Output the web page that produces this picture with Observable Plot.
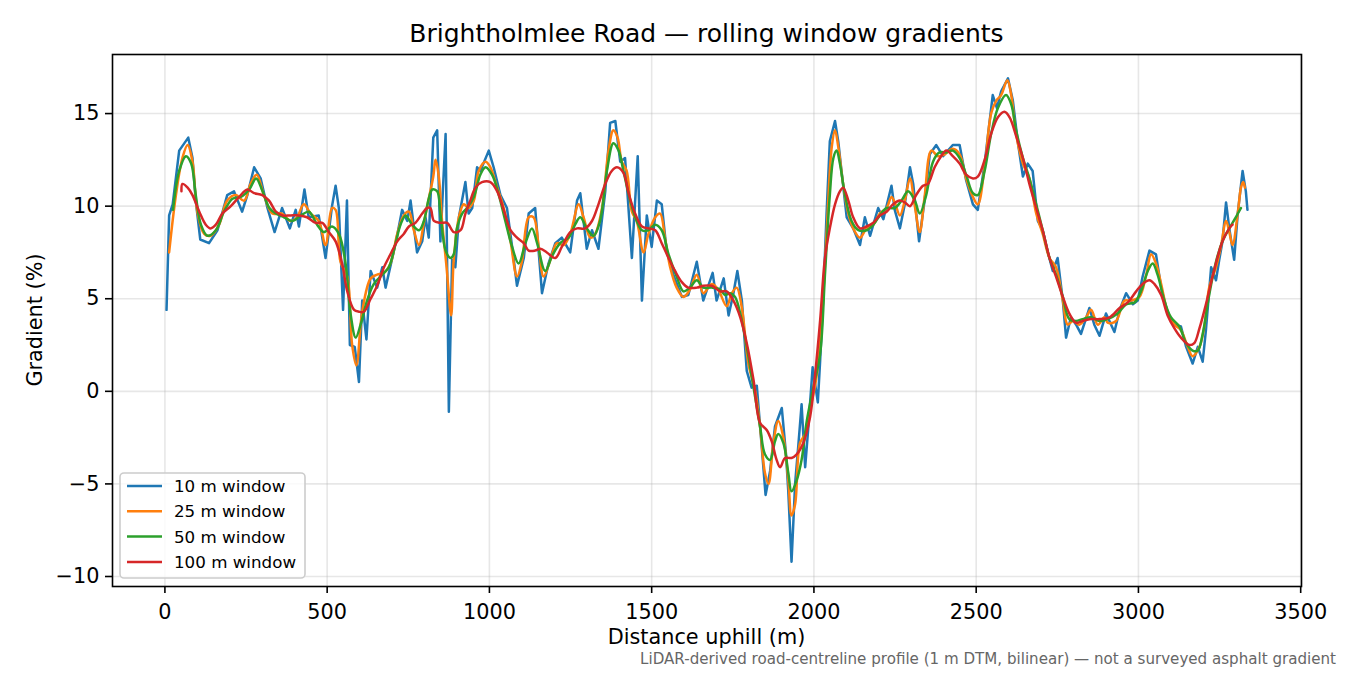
<!DOCTYPE html>
<html>
<head>
<meta charset="utf-8">
<script src="https://cdn.jsdelivr.net/npm/d3@7"></script>
<script src="https://cdn.jsdelivr.net/npm/@observablehq/plot@0.6"></script>
<style>
  html, body { margin: 0; padding: 0; background: #fff; }
  #chart { width: 1350px; height: 675px; }
</style>
</head>
<body>
<div id="chart"></div>
<script>
// ---------- data ----------
const titleText = "Brightholmlee Road — rolling window gradients";
const xLabel = "Distance uphill (m)";
const yLabel = "Gradient (%)";
const caption = "LiDAR-derived road-centreline profile (1 m DTM, bilinear) — not a surveyed asphalt gradient";
const seriesNames = ["10 m window", "25 m window", "50 m window", "100 m window"];
const seriesColors = ["#1f77b4", "#ff7f0e", "#2ca02c", "#d62728"];
const xTicks = [0, 500, 1000, 1500, 2000, 2500, 3000, 3500];
const yTicks = [-10, -5, 0, 5, 10, 15];

const dist10 = [5,13,24,44,72,85,95,109,136,162,192,213,238,254,275,295,316,338,361,385,403,413,430,443,474,495,515,526,536,549,561,570,585,598,608,621,634,654,670,680,711,731,747,757,777,793,803,813,827,839,849,865,875,885,895,906,926,936,947,962,972,998,1013,1034,1054,1070,1085,1106,1121,1141,1162,1182,1203,1223,1249,1270,1280,1300,1316,1336,1357,1372,1388,1403,1418,1439,1457,1470,1485,1500,1516,1531,1546,1567,1593,1613,1639,1659,1688,1700,1722,1737,1752,1764,1778,1793,1808,1824,1836,1851,1865,1880,1901,1914,1921,1931,1942,1952,1962,1973,1983,1996,2012,2019,2029,2039,2049,2065,2075,2085,2101,2121,2142,2157,2173,2198,2214,2239,2249,2265,2280,2296,2306,2324,2341,2357,2377,2398,2428,2449,2469,2490,2505,2526,2551,2564,2577,2598,2613,2628,2644,2659,2674,2690,2705,2721,2736,2751,2767,2777,2792,2808,2823,2849,2864,2880,2900,2926,2942,2962,2983,2998,3013,3034,3054,3070,3090,3111,3131,3147,3167,3183,3198,3208,3224,3239,3249,3259,3270,3280,3295,3306,3321,3331,3336];
const grad10 = [4.4,9.5,10.1,13.0,13.7,12.6,10.3,8.2,8.0,8.7,10.6,10.8,9.7,10.6,12.1,11.5,9.9,8.6,9.9,8.8,9.8,8.9,10.9,9.4,9.5,7.2,10.0,11.1,9.9,4.4,10.3,2.5,2.4,0.5,4.9,2.8,6.5,5.6,6.7,5.6,8.0,9.8,9.2,10.3,7.5,8.1,9.4,8.3,13.7,14.1,8.1,13.9,-1.1,7.1,6.7,9.4,11.3,9.6,9.9,12.1,11.9,13.0,12.1,10.6,9.9,7.8,5.7,7.2,9.6,9.9,5.3,6.9,8.0,8.3,7.5,10.3,10.7,7.7,8.7,7.7,10.8,14.5,14.6,12.4,12.6,7.2,12.7,4.9,9.5,7.8,10.3,10.1,7.6,6.3,5.1,5.2,7.0,4.9,6.4,4.9,6.1,4.1,5.3,6.5,4.9,1.1,0.2,0.3,-2.3,-5.6,-4.3,-1.9,-0.9,-3.4,-5.4,-9.2,-5.0,-2.9,-0.7,-4.1,-1.9,1.3,-0.6,1.6,5.2,9.6,13.5,14.6,13.5,11.9,9.4,8.8,7.9,9.4,8.4,9.9,9.3,11.1,9.8,8.8,10.1,12.1,11.2,8.1,10.3,12.8,13.3,12.7,13.3,13.3,11.4,10.1,9.8,12.3,16.0,15.3,16.2,16.9,15.7,13.5,11.6,12.3,11.9,9.2,8.7,7.5,6.5,7.2,4.9,2.9,4.0,3.6,3.1,4.5,3.6,3.0,4.2,3.2,4.4,5.3,4.7,4.9,6.2,7.6,7.4,5.6,4.2,3.6,3.5,2.4,1.5,2.4,1.6,3.3,6.7,6.0,7.1,8.1,10.2,8.8,7.1,9.6,11.9,10.8,9.8];

const dist25 = [13,34,54,70,85,100,121,141,167,192,218,244,264,283,305,331,361,387,407,428,449,474,495,515,526,541,562,577,590,608,634,654,675,695,716,736,752,767,783,798,813,827,834,844,854,868,882,890,906,921,936,952,967,988,1003,1024,1044,1065,1085,1100,1121,1136,1152,1167,1188,1208,1229,1249,1275,1290,1311,1326,1347,1367,1382,1395,1408,1423,1439,1454,1475,1490,1511,1526,1541,1557,1577,1598,1618,1639,1659,1685,1705,1731,1747,1762,1778,1798,1819,1834,1849,1860,1875,1890,1906,1921,1931,1942,1957,1973,1988,2008,2024,2039,2055,2065,2075,2090,2106,2121,2142,2162,2183,2203,2224,2239,2249,2265,2280,2296,2310,2326,2341,2362,2382,2403,2428,2449,2469,2490,2505,2526,2546,2562,2577,2596,2608,2623,2644,2664,2685,2705,2726,2746,2767,2782,2798,2818,2839,2854,2875,2895,2906,2931,2957,2977,3003,3024,3039,3054,3070,3090,3111,3131,3152,3167,3188,3203,3218,3239,3254,3270,3280,3290,3306,3316,3323,3328];
const grad25 = [7.5,10.6,12.6,13.3,12.4,9.7,8.5,8.4,9.0,10.3,10.6,10.3,11.2,11.7,10.6,9.6,9.6,9.2,9.4,10.1,9.6,9.2,7.9,9.9,9.8,7.0,6.2,2.5,1.4,4.3,6.1,6.3,6.4,6.9,8.5,9.5,9.7,8.7,7.9,9.1,10.4,11.6,12.5,11.6,9.2,6.7,4.1,7.1,9.4,10.1,9.9,10.3,11.9,12.4,12.1,11.0,9.9,8.1,6.2,7.0,9.4,9.4,7.8,6.2,7.1,8.0,7.9,8.5,10.1,9.4,8.3,8.5,9.9,13.0,14.1,13.7,12.4,11.9,9.7,9.2,7.5,8.5,9.4,9.6,8.3,6.7,5.6,5.1,5.5,6.3,5.3,5.8,5.5,4.6,5.3,5.6,4.5,1.5,0.0,-1.9,-4.4,-5.0,-2.8,-1.6,-2.5,-4.8,-6.7,-6.1,-2.8,-2.3,-1.0,0.8,3.8,8.5,13.2,14.1,13.2,11.2,9.6,8.8,8.3,8.8,9.0,9.6,9.9,10.5,10.2,9.5,10.3,11.5,10.1,8.6,10.5,13.0,12.7,12.8,13.1,12.8,11.5,10.5,10.1,12.1,15.0,15.7,16.0,16.8,16.0,13.9,12.3,11.5,9.6,8.5,7.2,6.7,4.9,3.6,3.8,3.6,4.0,4.4,3.6,4.0,3.7,3.8,4.9,4.9,5.1,6.3,7.4,6.9,5.8,4.3,3.6,3.3,2.4,1.9,2.4,3.5,5.6,6.7,7.8,9.2,8.6,7.9,9.6,11.0,11.3,11.0];

const dist50 = [25,44,65,81,95,111,131,157,182,208,234,260,281,301,322,342,367,393,419,444,469,490,515,536,556,572,588,603,623,644,670,690,711,726,742,762,783,798,813,824,839,849,865,880,890,900,916,931,952,972,988,1008,1029,1049,1070,1090,1111,1131,1147,1172,1193,1218,1244,1264,1280,1300,1321,1341,1362,1382,1398,1413,1434,1454,1470,1490,1511,1531,1552,1577,1598,1618,1639,1659,1685,1711,1726,1742,1757,1773,1793,1814,1834,1849,1865,1880,1890,1906,1921,1931,1947,1962,1978,1998,2019,2034,2049,2060,2070,2080,2096,2116,2137,2162,2183,2203,2224,2249,2270,2290,2311,2326,2346,2367,2387,2408,2428,2449,2469,2490,2505,2526,2546,2567,2592,2608,2623,2644,2664,2685,2705,2726,2746,2767,2787,2808,2828,2854,2880,2905,2936,2962,2988,3008,3029,3044,3059,3080,3100,3126,3147,3167,3183,3198,3218,3239,3259,3280,3300,3316];
const grad50 = [9.8,11.9,12.7,12.3,10.6,9.0,8.4,8.7,9.7,10.4,10.5,10.9,11.5,10.8,9.9,9.6,9.4,9.2,9.5,9.7,9.0,8.6,8.9,8.5,7.0,4.2,2.9,3.6,4.9,5.8,6.3,6.7,8.0,9.0,9.5,9.0,8.7,9.2,10.4,10.9,10.8,9.6,7.6,7.2,7.4,8.8,9.6,9.9,10.5,11.7,12.1,11.7,10.6,9.2,7.8,6.9,8.0,8.8,8.0,6.5,7.3,8.0,8.3,9.0,9.4,8.8,8.4,9.2,11.9,13.4,13.0,11.9,10.3,9.2,8.7,8.7,9.0,8.7,7.4,6.2,5.4,5.6,6.0,5.6,5.6,5.5,5.2,5.3,5.1,4.2,2.4,0.2,-1.9,-3.4,-3.7,-2.7,-2.3,-2.8,-4.4,-5.4,-4.8,-3.7,-1.6,0.2,2.0,6.3,10.6,12.6,13.0,12.3,10.6,9.2,8.7,8.7,9.0,9.5,9.9,9.9,10.3,10.8,10.3,9.6,10.6,12.4,12.9,12.9,13.0,12.6,11.7,10.7,10.6,11.9,13.9,15.3,16.0,15.5,14.1,12.6,11.5,10.1,8.7,7.2,6.3,5.1,3.9,3.8,3.9,4.0,3.8,3.9,4.2,4.7,4.8,5.4,6.5,6.9,6.3,4.9,4.0,3.5,2.6,2.2,2.2,3.1,5.2,7.0,8.1,8.8,9.4,9.9];

const dist100 = [51,54,70,85,106,126,141,157,177,203,229,254,275,300,321,342,363,387,413,438,464,485,505,526,546,562,583,598,613,634,654,675,695,716,736,752,772,793,808,818,829,849,870,890,911,926,941,957,977,1003,1024,1044,1065,1085,1106,1121,1141,1157,1177,1203,1223,1249,1270,1295,1316,1336,1357,1377,1393,1413,1429,1449,1470,1490,1511,1531,1552,1572,1593,1613,1639,1659,1685,1711,1731,1752,1773,1793,1814,1834,1855,1870,1885,1896,1911,1931,1947,1967,1988,2003,2019,2034,2049,2065,2080,2090,2106,2121,2142,2162,2183,2203,2224,2244,2265,2280,2296,2315,2336,2351,2372,2392,2408,2428,2449,2469,2490,2505,2526,2546,2567,2587,2603,2623,2644,2664,2685,2705,2726,2746,2767,2787,2808,2828,2854,2880,2911,2942,2967,2993,3013,3034,3049,3070,3090,3111,3131,3157,3172,3188,3208,3234,3259,3280,3290];
const grad100 = [10.8,11.2,11.0,10.6,9.7,9.0,8.8,9.0,9.6,10.0,10.5,10.9,10.7,10.6,10.3,9.7,9.5,9.5,9.5,9.4,9.1,9.1,8.6,8.1,6.9,5.4,4.4,4.3,4.3,5.0,5.7,6.7,7.4,8.1,8.5,8.9,9.1,9.6,9.9,9.9,9.2,9.1,9.1,8.6,8.7,9.6,10.3,11.0,11.3,11.3,10.8,9.8,8.7,8.3,8.0,7.6,7.6,7.7,7.5,7.2,7.8,8.6,8.8,8.8,9.2,10.1,11.2,11.9,12.1,11.8,10.7,9.6,8.9,8.8,8.7,8.0,7.2,6.5,5.9,5.6,5.6,5.7,5.7,5.4,5.4,4.9,4.0,2.6,0.6,-1.7,-2.1,-2.7,-3.7,-4.1,-3.6,-3.6,-3.4,-2.8,-1.4,0.8,3.8,7.2,8.8,10.1,10.8,11.0,10.3,9.4,8.8,8.9,9.1,9.5,9.7,10.1,10.3,10.2,10.0,10.6,11.1,11.2,12.1,12.7,13.0,12.7,12.3,11.7,11.5,11.6,12.5,13.9,14.8,15.1,14.8,13.8,12.6,11.2,9.9,8.7,7.2,6.2,5.1,4.2,3.7,3.8,3.9,3.9,4.0,4.5,4.8,5.4,5.8,6.0,5.8,5.2,4.1,3.4,2.9,2.5,2.6,3.4,4.7,6.6,8.1,8.8,9.0];

// ---------- build tables ----------
const toRows = (xs, ys) => xs.map((x, i) => ({x, y: ys[i]}));
const series = [
  toRows(dist10, grad10),
  toRows(dist25, grad25),
  toRows(dist50, grad50),
  toRows(dist100, grad100)
];
const curves = ["linear", "catmull-rom", "catmull-rom", "catmull-rom"];

const W = 1350, H = 675;
const mL = 112, mR = 49, mT = 54, mB = 89;
const fmt = d => (d < 0 ? "\u2212" + Math.abs(d) : String(d));

const lineMarks = series.map((rows, i) =>
  Plot.line(rows, {x: "x", y: "y", stroke: seriesColors[i], strokeWidth: 2.5, strokeLinejoin: "round", curve: curves[i]})
);

const chart = Plot.plot({
  width: W,
  height: H,
  marginLeft: mL,
  marginRight: mR,
  marginTop: mT,
  marginBottom: mB,
  style: {fontFamily: "'DejaVu Sans', sans-serif", background: "#fff", color: "#000", overflow: "visible"},
  x: {domain: [-161.5, 3502.5], label: null},
  y: {domain: [-10.54, 18.19], label: null},
  marks: [
    Plot.gridX(xTicks, {stroke: "#b0b0b0", strokeOpacity: 0.3, strokeWidth: 1.6}),
    Plot.gridY(yTicks, {stroke: "#b0b0b0", strokeOpacity: 0.3, strokeWidth: 1.6}),
    ...lineMarks,
    Plot.axisX(xTicks, {tickSize: 7, tickPadding: 11, strokeWidth: 1.6, fontSize: 20.8, tickFormat: fmt, label: null}),
    Plot.axisY(yTicks, {tickSize: 7, tickPadding: 6, strokeWidth: 1.6, fontSize: 20.8, tickFormat: fmt, label: null}),
    Plot.frame({stroke: "#000", strokeWidth: 1.6})
  ]
});

document.getElementById("chart").appendChild(chart);

// ---------- annotations: title, axis labels, caption, legend ----------
const svg = d3.select(chart);
const cx = mL + (W - mL - mR) / 2;

svg.append("text")
  .attr("x", cx).attr("y", 42)
  .attr("text-anchor", "middle")
  .attr("font-size", 25)
  .attr("fill", "#000")
  .text(titleText);

svg.append("text")
  .attr("x", cx).attr("y", 644)
  .attr("text-anchor", "middle")
  .attr("font-size", 20.8)
  .attr("fill", "#000")
  .text(xLabel);

svg.append("text")
  .attr("transform", `translate(42, ${mT + (H - mT - mB) / 2}) rotate(-90)`)
  .attr("text-anchor", "middle")
  .attr("font-size", 20.8)
  .attr("fill", "#000")
  .text(yLabel);

svg.append("text")
  .attr("x", 1336).attr("y", 664)
  .attr("text-anchor", "end")
  .attr("font-size", 15.1)
  .attr("fill", "#666")
  .text(caption);

const lg = svg.append("g");
lg.append("rect")
  .attr("x", 120).attr("y", 473).attr("width", 185).attr("height", 105)
  .attr("rx", 4).attr("fill", "#fff").attr("fill-opacity", 0.8)
  .attr("stroke", "#cccccc").attr("stroke-width", 1.6);
seriesNames.forEach((name, i) => {
  const yy = 486 + i * 25.3;
  lg.append("line")
    .attr("x1", 127).attr("x2", 162).attr("y1", yy).attr("y2", yy)
    .attr("stroke", seriesColors[i]).attr("stroke-width", 2.5);
  lg.append("text")
    .attr("x", 174).attr("y", yy).attr("dy", "0.36em")
    .attr("text-anchor", "start")
    .attr("font-size", 16.7).attr("fill", "#000")
    .text(name);
});
</script>
</body>
</html>
